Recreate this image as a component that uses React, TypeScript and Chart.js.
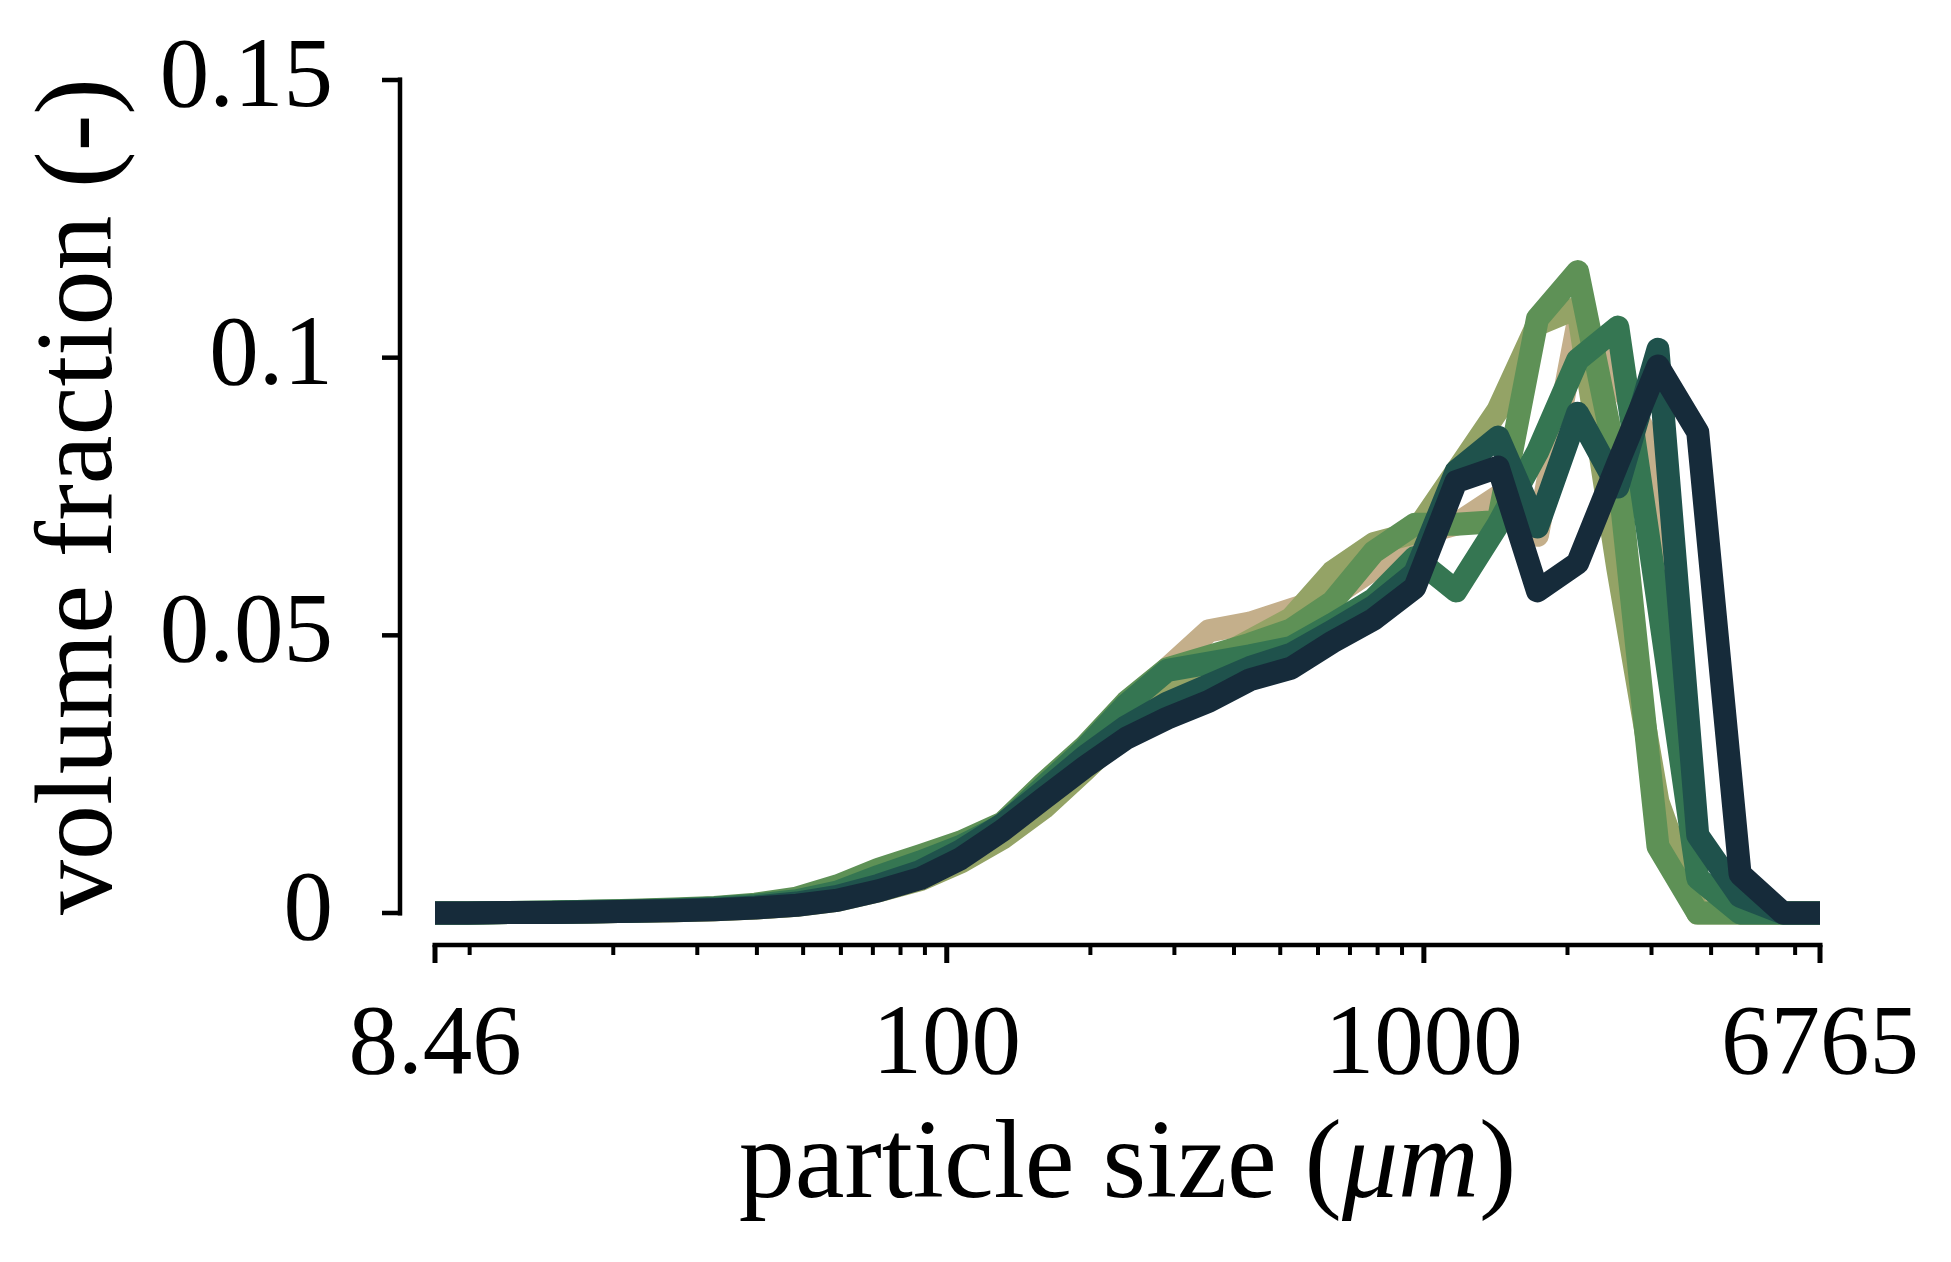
import React, { useEffect, useRef } from "react";
import { Chart, registerables } from "chart.js";

Chart.register(...registerables);

// particle size classes (um), log spaced
const particleSizes = [
  8.46, 9.9, 12.1, 14.7, 17.9, 21.9, 26.7, 32.6, 39.7, 48.5, 59, 72, 88, 107,
  131, 160, 195, 238, 290, 354, 432, 527, 643, 785, 957, 1168, 1431, 1730,
  2100, 2550, 3095, 3750, 4600, 5660, 6765,
];

const xTickValues = [8.46, 100, 1000, 6765];
const xMinorTicks = [
  10, 20, 30, 40, 50, 60, 70, 80, 90, 200, 300, 400, 500, 600, 700, 800, 900,
  2000, 3000, 4000, 5000, 6000,
];
const yTickValues = [0, 0.05, 0.1, 0.15];

// volume fraction per sample (light -> dark)
const sampleTan = [
  0, 0, 0.0001, 0.0001, 0.0002, 0.0003, 0.0004, 0.0006, 0.0009, 0.0014, 0.0024,
  0.0042, 0.0066, 0.0095, 0.0145, 0.0215, 0.029, 0.037, 0.044, 0.0508, 0.0522,
  0.0546, 0.057, 0.062, 0.068, 0.07, 0.075, 0.068, 0.106, 0.096, 0.082, 0.005,
  0, 0, 0,
];
const sampleOlive = [
  0, 0, 0.0001, 0.0001, 0.0002, 0.0003, 0.0004, 0.0006, 0.0009, 0.0014, 0.0023,
  0.004, 0.006, 0.0092, 0.0135, 0.019, 0.0258, 0.033, 0.04, 0.045, 0.049,
  0.053, 0.0614, 0.0665, 0.0685, 0.0794, 0.0906, 0.106, 0.109, 0.062, 0.02, 0,
  0, 0, 0,
];
const sampleLightGreen = [
  0, 0, 0.0001, 0.0002, 0.0003, 0.0005, 0.0007, 0.001, 0.0016, 0.0027, 0.0049,
  0.0079, 0.0103, 0.0128, 0.0162, 0.0234, 0.03, 0.038, 0.044, 0.0462, 0.0484,
  0.051, 0.056, 0.065, 0.07, 0.07, 0.0705, 0.107, 0.1155, 0.08, 0.012, 0, 0, 0,
  0,
];
const sampleGreen = [
  0, 0, 0.0001, 0.0002, 0.0003, 0.0004, 0.0006, 0.0009, 0.0014, 0.0022, 0.0038,
  0.0066, 0.0092, 0.012, 0.0158, 0.0228, 0.0296, 0.0375, 0.0437, 0.045, 0.0463,
  0.0478, 0.052, 0.0565, 0.064, 0.058, 0.07, 0.083, 0.0996, 0.1055, 0.056,
  0.0063, 0, 0, 0,
];
const sampleTeal = [
  0, 0, 0.0001, 0.0001, 0.0002, 0.0003, 0.0005, 0.0007, 0.0011, 0.0018, 0.003,
  0.005, 0.0075, 0.0112, 0.016, 0.022, 0.0282, 0.0336, 0.0378, 0.041, 0.0442,
  0.0466, 0.0508, 0.0552, 0.0612, 0.0795, 0.0857, 0.0695, 0.09, 0.0767, 0.1015,
  0.014, 0.003, 0, 0,
];
const sampleNavy = [
  0, 0, 0.0001, 0.0001, 0.0002, 0.0003, 0.0004, 0.0006, 0.0009, 0.0014, 0.0023,
  0.004, 0.0062, 0.0098, 0.0149, 0.0207, 0.0263, 0.0315, 0.0351, 0.0381, 0.042,
  0.0441, 0.0488, 0.0529, 0.0586, 0.0777, 0.0803, 0.058, 0.063, 0.081, 0.0985,
  0.0866, 0.007, 0, 0,
];

const samples = [
  sampleTan,
  sampleOlive,
  sampleLightGreen,
  sampleGreen,
  sampleTeal,
  sampleNavy,
];
const sampleColors = [
  "#c4af8b",
  "#94a366",
  "#5e9156",
  "#357652",
  "#1f524c",
  "#162b3a",
];

const FONT = "'Liberation Serif', 'Times New Roman', serif";

// matplotlib-style detached spines: axis lines offset from the plot area
const offsetAxes = {
  id: "offsetAxes",
  afterDatasetsDraw(chart: any) {
    const { ctx, chartArea, scales } = chart;
    const xs = scales.x;
    const ys = scales.y;
    ctx.save();
    ctx.strokeStyle = "#000";
    ctx.lineCap = "butt";

    // x axis
    const ax = chartArea.bottom + 32;
    const x0 = xs.getPixelForValue(xTickValues[0]);
    const x1 = xs.getPixelForValue(xTickValues[xTickValues.length - 1]);
    ctx.lineWidth = 4.5;
    ctx.beginPath();
    ctx.moveTo(x0 - 2.5, ax);
    ctx.lineTo(x1 + 2.5, ax);
    ctx.stroke();
    ctx.lineWidth = 5;
    xTickValues.forEach((v) => {
      const px = xs.getPixelForValue(v);
      ctx.beginPath();
      ctx.moveTo(px, ax);
      ctx.lineTo(px, ax + 18);
      ctx.stroke();
    });
    ctx.lineWidth = 4;
    xMinorTicks.forEach((v) => {
      const px = xs.getPixelForValue(v);
      ctx.beginPath();
      ctx.moveTo(px, ax);
      ctx.lineTo(px, ax + 10);
      ctx.stroke();
    });

    // y axis
    const ay = chartArea.left - 35;
    const yb = ys.getPixelForValue(yTickValues[0]);
    const yt = ys.getPixelForValue(yTickValues[yTickValues.length - 1]);
    ctx.lineWidth = 4.5;
    ctx.beginPath();
    ctx.moveTo(ay, yb + 2.5);
    ctx.lineTo(ay, yt - 2.5);
    ctx.stroke();
    yTickValues.forEach((v) => {
      const py = ys.getPixelForValue(v);
      ctx.beginPath();
      ctx.moveTo(ay + 2, py);
      ctx.lineTo(ay - 18, py);
      ctx.stroke();
    });

    // x title with italic unit, like the LaTeX original
    const parts = [
      { text: "particle size (", font: `112px ${FONT}` },
      { text: "μm", font: `italic 112px ${FONT}` },
      { text: ")", font: `112px ${FONT}` },
    ];
    const widths = parts.map((p) => {
      ctx.font = p.font;
      return ctx.measureText(p.text).width;
    });
    const total = widths.reduce((a, b) => a + b, 0);
    let tx = (chartArea.left + chartArea.right) / 2 - total / 2;
    const ty = chartArea.bottom + 284;
    ctx.fillStyle = "#000";
    ctx.textAlign = "left";
    ctx.textBaseline = "alphabetic";
    parts.forEach((p, i) => {
      ctx.font = p.font;
      ctx.fillText(p.text, tx, ty);
      tx += widths[i];
    });
    ctx.restore();
  },
};

const ParticleSizeChart: React.FC = () => {
  const canvasRef = useRef<HTMLCanvasElement | null>(null);
  const chartRef = useRef<Chart | null>(null);

  useEffect(() => {
    document.body.style.margin = "0";
    if (!canvasRef.current) return;
    if (chartRef.current) chartRef.current.destroy();

    const ctx = canvasRef.current.getContext("2d");
    if (!ctx) return;

    chartRef.current = new Chart(ctx, {
      type: "line",
      data: {
        datasets: samples.map((vals, i) => ({
          label: `sample ${i + 1}`,
          data: particleSizes.map((x, j) => ({ x, y: vals[j] })),
          borderColor: sampleColors[i],
          backgroundColor: sampleColors[i],
          borderWidth: 23,
          borderJoinStyle: "round" as const,
          borderCapStyle: "butt" as const,
          pointRadius: 0,
          tension: 0,
          clip: false as any,
          // darker samples drawn on top
          order: samples.length - 1 - i,
        })),
      },
      options: {
        animation: false,
        responsive: false,
        devicePixelRatio: 1,
        layout: { padding: { top: 80, right: 131, bottom: 0, left: 0 } },
        plugins: {
          legend: { display: false },
          tooltip: { enabled: false },
        },
        scales: {
          x: {
            type: "logarithmic",
            min: 8.46,
            max: 6765,
            grid: { display: false, drawTicks: false },
            border: { display: false },
            afterBuildTicks: (scale: any) => {
              scale.ticks = xTickValues.map((value) => ({ value }));
            },
            afterFit: (scale: any) => {
              scale.height = 349;
              scale.paddingLeft = 0;
              scale.paddingRight = 0;
              scale.paddingTop = 0;
              scale.paddingBottom = 0;
            },
            ticks: {
              autoSkip: false,
              maxRotation: 0,
              minRotation: 0,
              padding: 84,
              color: "#000",
              font: { family: FONT, size: 99, lineHeight: 1 },
              callback: (v: any) => String(v),
            },
            title: { display: false },
          },
          y: {
            type: "linear",
            min: 0,
            max: 0.15,
            grid: { display: false, drawTicks: false },
            border: { display: false },
            afterBuildTicks: (scale: any) => {
              scale.ticks = yTickValues.map((value) => ({ value }));
            },
            afterFit: (scale: any) => {
              scale.width = 435;
              scale.paddingLeft = 0;
              scale.paddingRight = 0;
              scale.paddingTop = 0;
              scale.paddingBottom = 0;
            },
            ticks: {
              padding: 102,
              color: "#000",
              font: { family: FONT, size: 99, lineHeight: 1 },
              callback: (v: any) => String(v),
            },
            title: {
              display: true,
              text: "volume fraction (-)",
              color: "#000",
              font: { family: FONT, size: 110, lineHeight: 1 },
              padding: { top: 27, bottom: 0 },
            },
          },
        },
      },
      plugins: [offsetAxes],
    });

    return () => {
      if (chartRef.current) {
        chartRef.current.destroy();
        chartRef.current = null;
      }
    };
  }, []);

  return (
    <div style={{ width: 1951, height: 1262, background: "#fff" }}>
      <canvas ref={canvasRef} width={1951} height={1262}></canvas>
    </div>
  );
};

export default function App() {
  return <ParticleSizeChart />;
}
